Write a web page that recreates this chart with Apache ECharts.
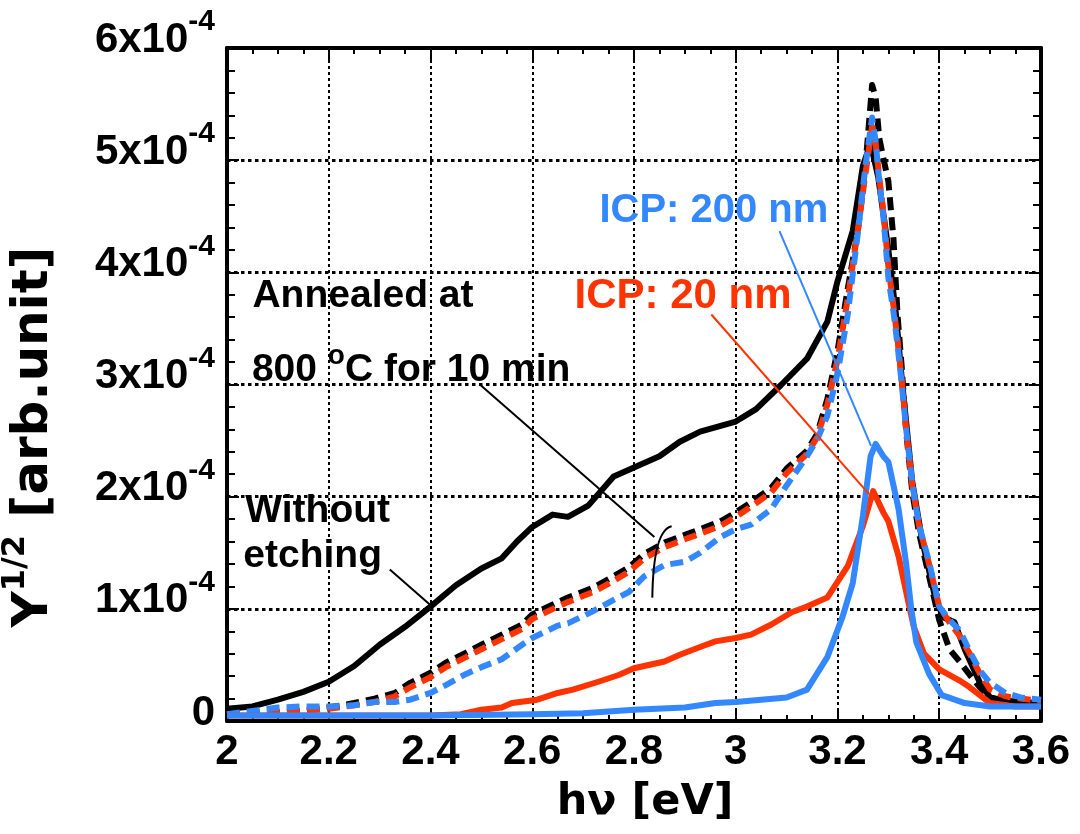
<!DOCTYPE html>
<html><head><meta charset="utf-8">
<script src="https://cdn.jsdelivr.net/npm/echarts@6/dist/echarts.min.js"></script>
<style>html,body{margin:0;padding:0;background:#fff}#c{width:1080px;height:834px}</style>
</head><body><div id="c"></div>
<script>
// y values are in units of 1e-4 (axis labels show N x10^-4)
const xTickLabels = ['2','2.2','2.4','2.6','2.8','3','3.2','3.4','3.6'];
const yTickLabels = ['0','1','2','3','4','5','6'];

// Without etching (black solid)
const noEtchX = [2.0,2.05,2.1,2.15,2.2,2.25,2.3,2.35,2.4,2.45,2.5,2.54,2.57,2.6,2.64,2.67,2.71,2.76,2.8,2.85,2.89,2.93,3.0,3.04,3.09,3.14,3.18,3.2,3.23,3.25,3.265,3.28,3.3,3.315,3.327,3.347,3.366,3.394,3.41,3.43,3.45,3.48,3.5,3.54,3.6];
const noEtchY = [0.11,0.13,0.19,0.26,0.35,0.49,0.68,0.84,1.02,1.21,1.36,1.45,1.6,1.73,1.84,1.82,1.92,2.18,2.26,2.36,2.49,2.58,2.67,2.78,3.0,3.23,3.56,3.92,4.37,4.95,5.15,4.85,4.2,3.62,3.02,2.13,1.62,1.06,0.92,0.88,0.64,0.34,0.21,0.16,0.14];

// ICP 20 nm (red solid)
const icp20X = [2.0,2.1,2.2,2.3,2.4,2.46,2.5,2.54,2.56,2.61,2.65,2.68,2.73,2.77,2.8,2.86,2.89,2.93,2.96,3.0,3.03,3.07,3.11,3.14,3.18,3.22,3.25,3.27,3.29,3.3,3.32,3.335,3.35,3.37,3.4,3.44,3.46,3.5,3.55,3.6];
const icp20Y = [0.05,0.05,0.05,0.05,0.05,0.06,0.1,0.12,0.16,0.19,0.25,0.28,0.35,0.41,0.47,0.53,0.59,0.66,0.71,0.74,0.77,0.86,0.97,1.02,1.1,1.38,1.74,2.05,1.86,1.78,1.47,1.15,0.84,0.6,0.46,0.36,0.3,0.16,0.13,0.13];

// ICP 200 nm (blue solid)
const icp200X = [2.0,2.2,2.4,2.6,2.7,2.8,2.9,2.96,3.0,3.1,3.14,3.18,3.21,3.23,3.25,3.265,3.275,3.29,3.3,3.32,3.335,3.345,3.355,3.38,3.405,3.45,3.5,3.6];
const icp200Y = [0.05,0.05,0.05,0.06,0.07,0.1,0.12,0.16,0.17,0.21,0.28,0.57,0.93,1.23,1.83,2.36,2.47,2.36,2.31,1.89,1.4,1.0,0.7,0.42,0.23,0.16,0.13,0.13];

// Annealed at 800 C for 10 min (dashed), common energy grid
const annealX = [2.0,2.05,2.1,2.15,2.2,2.25,2.29,2.33,2.36,2.4,2.43,2.47,2.5,2.54,2.58,2.6,2.65,2.67,2.72,2.76,2.79,2.82,2.86,2.9,2.93,2.97,3.0,3.03,3.07,3.1,3.14,3.16,3.18,3.2,3.22,3.24,3.255,3.268,3.275,3.282,3.29,3.3,3.31,3.318,3.326,3.335,3.347,3.36,3.38,3.4,3.42,3.44,3.46,3.48,3.5,3.53,3.56,3.6];
const annealNoEtchY = [0.06,0.07,0.08,0.09,0.12,0.16,0.2,0.25,0.34,0.43,0.52,0.61,0.68,0.77,0.86,0.95,1.06,1.1,1.19,1.29,1.37,1.49,1.59,1.66,1.71,1.78,1.86,1.95,2.08,2.25,2.41,2.56,2.87,3.3,3.85,4.37,4.95,5.67,5.56,5.2,5.02,4.81,4.3,3.62,3.17,2.58,2.04,1.68,1.29,0.9,0.64,0.53,0.41,0.3,0.21,0.18,0.17,0.16];
const annealIcp20Y = [0.06,0.07,0.08,0.09,0.11,0.14,0.17,0.22,0.3,0.39,0.48,0.57,0.64,0.73,0.82,0.91,1.02,1.06,1.15,1.25,1.33,1.45,1.55,1.62,1.67,1.74,1.82,1.91,2.04,2.21,2.38,2.53,2.82,3.22,3.76,4.38,4.88,5.3,5.15,4.85,4.55,4.05,3.7,3.4,3.05,2.6,2.1,1.75,1.4,1.02,0.88,0.76,0.6,0.42,0.28,0.22,0.2,0.18];
const annealIcp200Y = [0.06,0.09,0.12,0.13,0.13,0.14,0.17,0.17,0.19,0.25,0.32,0.42,0.48,0.55,0.68,0.74,0.85,0.87,0.98,1.08,1.15,1.29,1.39,1.42,1.5,1.64,1.71,1.75,1.89,2.1,2.36,2.51,2.72,3.1,3.62,4.35,4.95,5.38,5.17,4.81,4.51,3.95,3.65,3.35,3.02,2.6,2.12,1.75,1.42,1.02,0.9,0.81,0.62,0.45,0.34,0.25,0.21,0.19];

const BLACK = '#000000', RED = '#ff3300', BLUE = '#3388ff';
const FONT = '"Liberation Sans", Arial, Helvetica, sans-serif';
const TITLE_FONT = '"DejaVu Sans", "Liberation Sans", sans-serif';
const DASH = [13, 7];

const pairs = (xs, ys) => xs.map((x, i) => [x, ys[i]]);

const chart = echarts.init(document.getElementById('c'));

const xBase = {
  type: 'value', min: 2, max: 3.6, interval: 0.2,
  axisLine: { show: true, onZero: false, lineStyle: { color: '#000', width: 4 } },
  axisTick: { show: true, inside: true, length: 12, lineStyle: { color: '#000', width: 2 } },
  minorTick: { show: true, splitNumber: 4, length: 6, lineStyle: { color: '#000', width: 2 } },
};
const yBase = {
  type: 'value', min: 0, max: 6, interval: 1,
  axisLine: { show: true, onZero: false, lineStyle: { color: '#000', width: 4 } },
  axisTick: { show: true, inside: true, length: 12, lineStyle: { color: '#000', width: 2 } },
  minorTick: { show: true, splitNumber: 5, length: 8, lineStyle: { color: '#000', width: 2 } },
};

const lineSeries = (name, xs, ys, color, dashed, z) => ({
  name, type: 'line', data: pairs(xs, ys), showSymbol: false, symbol: 'none',
  z, silent: true,
  lineStyle: { color, width: 6, type: dashed ? DASH : 'solid', cap: 'butt', join: 'round' }
});

const option = {
  animation: false,
  backgroundColor: '#fff',
  grid: { left: 227, right: 39, top: 48, bottom: 113 },
  xAxis: [
    Object.assign({}, xBase, {
      position: 'bottom',
      splitLine: { show: true, showMinLine: false, showMaxLine: false,
        lineStyle: { color: '#000', width: 2, type: [3, 3] } },
      axisLabel: {
        show: true, margin: 10, color: '#000', fontSize: 42, fontWeight: 'bold', fontFamily: FONT,
        formatter: (v) => xTickLabels[Math.round((v - 2) / 0.2)]
      }
    }),
    Object.assign({}, xBase, {
      position: 'top', splitLine: { show: false }, axisLabel: { show: false }
    })
  ],
  yAxis: [
    Object.assign({}, yBase, {
      position: 'left',
      splitLine: { show: true, showMinLine: false, showMaxLine: false,
        lineStyle: { color: '#000', width: 3, type: [3.5, 3.5] } },
      axisLabel: {
        show: true, margin: 12, color: '#000', fontFamily: FONT, padding: [0, 0, 16, 0],
        formatter: (v) => {
          const t = yTickLabels[Math.round(v)];
          return t === '0' ? '{b|0}' : '{b|' + t + 'x10}{s|-4}';
        },
        rich: {
          b: { fontSize: 42, fontWeight: 'bold', fontFamily: FONT, color: '#000', lineHeight: 66 },
          s: { fontSize: 30, fontWeight: 'bold', fontFamily: FONT, color: '#000', lineHeight: 30, verticalAlign: 'top' }
        }
      }
    }),
    Object.assign({}, yBase, {
      position: 'right', splitLine: { show: false }, axisLabel: { show: false }
    })
  ],
  series: [
    lineSeries('Without etching', noEtchX, noEtchY, BLACK, false, 2),
    lineSeries('Annealed, without etching', annealX, annealNoEtchY, BLACK, true, 3),
    lineSeries('Annealed, ICP 20 nm', annealX, annealIcp20Y, RED, true, 4),
    lineSeries('Annealed, ICP 200 nm', annealX, annealIcp200Y, BLUE, true, 5),
    lineSeries('ICP: 20 nm', icp20X, icp20Y, RED, false, 6),
    lineSeries('ICP: 200 nm', icp200X, icp200Y, BLUE, false, 7)
  ]
};
chart.setOption(option);

// Annotations positioned in data coordinates
const labels = [
  { text: 'Annealed at', x: 2.05, y: 3.785, color: BLACK, size: 39 },
  { rich: true, x: 2.049, y: 3.13, color: BLACK, size: 39 },
  { text: 'Without', x: 2.036, y: 1.87, color: BLACK, size: 39 },
  { text: 'etching', x: 2.032, y: 1.47, color: BLACK, size: 39 },
  { text: 'ICP: 200 nm', x: 2.732, y: 4.55, color: BLUE, size: 40 },
  { text: 'ICP: 20 nm', x: 2.683, y: 3.785, color: RED, size: 42 }
];
const leaders = [
  { from: [2.32, 1.35], to: [2.398, 1.04], color: BLACK },
  { from: [2.497, 3.0], to: [2.84, 1.64], color: BLACK },
  { from: [3.086, 4.367], to: [3.266, 2.452], color: BLUE },
  { from: [2.952, 3.624], to: [3.262, 2.022], color: RED }
];
const bracket = { start: [2.874, 1.736], ctrl: [2.838, 1.70], end: [2.836, 1.10] };

const P = (pt) => chart.convertToPixel({ xAxisIndex: 0, yAxisIndex: 0 }, pt);
const graphics = [];
labels.forEach((l) => {
  const p = P([l.x, l.y]);
  const style = {
    fill: l.color, font: 'bold ' + l.size + 'px ' + FONT,
    textAlign: 'left', textVerticalAlign: 'middle'
  };
  if (l.rich) {
    style.text = '{t|800 }{s|o}{t|C for 10 min}';
    style.rich = {
      t: { fontSize: l.size, fontWeight: 'bold', fontFamily: FONT, fill: l.color, lineHeight: 56 },
      s: { fontSize: 28, fontWeight: 'bold', fontFamily: FONT, fill: l.color, lineHeight: 28, verticalAlign: 'top' }
    };
  } else {
    style.text = l.text;
  }
  graphics.push({ type: 'text', x: p[0], y: p[1], z: 20, silent: true, style });
});
leaders.forEach((d) => {
  const a = P(d.from), b = P(d.to);
  graphics.push({ type: 'line', z: 19, silent: true,
    shape: { x1: a[0], y1: a[1], x2: b[0], y2: b[1] },
    style: { stroke: d.color, lineWidth: 2 } });
});
{
  const s = P(bracket.start), c = P(bracket.ctrl), e = P(bracket.end);
  graphics.push({ type: 'bezierCurve', z: 19, silent: true,
    shape: { x1: s[0], y1: s[1], cpx1: c[0], cpy1: c[1], x2: e[0], y2: e[1] },
    style: { stroke: BLACK, lineWidth: 2, fill: null } });
}
// Axis titles
graphics.push({ type: 'text', x: 645, y: 803, z: 20, silent: true,
  style: { text: 'hν [eV]', fill: '#000', font: 'bold 43px ' + TITLE_FONT, textAlign: 'center', textVerticalAlign: 'middle' } });
graphics.push({ type: 'text', x: 34, y: 437, rotation: Math.PI / 2, z: 20, silent: true,
  style: { text: '{m|Y}{s|1/2}{m| [arb.unit]}', textAlign: 'center', textVerticalAlign: 'middle',
    rich: {
      m: { fontSize: 50, fontWeight: 'bold', fontFamily: TITLE_FONT, fill: '#000', lineHeight: 68 },
      s: { fontSize: 32, fontWeight: 'bold', fontFamily: TITLE_FONT, fill: '#000', lineHeight: 32, verticalAlign: 'top' }
    } } });
chart.setOption({ graphic: graphics });
</script>
</body></html>
